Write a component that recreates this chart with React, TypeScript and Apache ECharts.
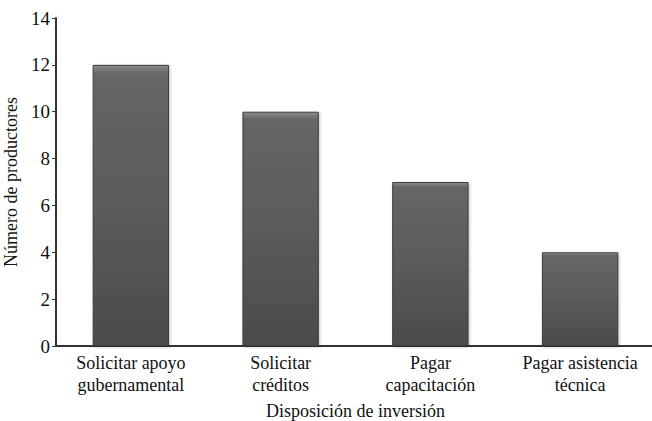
import React, { useEffect, useRef } from "react";
import * as echarts from "echarts";

const categories = [
  "Solicitar apoyo\ngubernamental",
  "Solicitar\ncréditos",
  "Pagar\ncapacitación",
  "Pagar asistencia\ntécnica",
];
const values = [12, 10, 7, 4];
const yTicks = { min: 0, max: 14, interval: 2 };

const FONT = "Liberation Serif, Times New Roman, serif";

export default function App() {
  const ref = useRef<HTMLDivElement>(null);
  useEffect(() => {
    document.body.style.margin = "0";
    if (!ref.current) return;
    const chart = echarts.init(ref.current, undefined, { renderer: "svg" });
    chart.setOption({
      animation: false,
      backgroundColor: "#ffffff",
      textStyle: { fontFamily: FONT },
      grid: {
        left: 56,
        right: -3,
        top: 18,
        bottom: 75,
        containLabel: false,
        outerBoundsMode: "none",
      },
      xAxis: {
        type: "category",
        data: categories,
        name: "Disposición de inversión",
        nameLocation: "middle",
        nameGap: 56,
        nameTextStyle: { fontFamily: FONT, fontSize: 18, color: "#111" },
        axisLine: { lineStyle: { color: "#333", width: 2 } },
        axisTick: { show: false },
        axisLabel: {
          fontFamily: FONT,
          fontSize: 18,
          color: "#111",
          lineHeight: 22,
          margin: 6,
          interval: 0,
          hideOverlap: false,
        },
      },
      yAxis: {
        type: "value",
        min: yTicks.min,
        max: yTicks.max,
        interval: yTicks.interval,
        name: "Número de productores",
        nameLocation: "middle",
        nameGap: 33,
        nameRotate: 90,
        nameTextStyle: { fontFamily: FONT, fontSize: 18, color: "#111" },
        axisLine: { show: true, lineStyle: { color: "#333", width: 2 } },
        axisTick: { show: true, length: 4, lineStyle: { color: "#333", width: 1 } },
        axisLabel: { fontFamily: FONT, fontSize: 19, color: "#111", margin: 6 },
        splitLine: { show: false },
      },
      series: [
        {
          type: "bar",
          data: values,
          barWidth: "51%",
          itemStyle: {
            color: {
              type: "linear",
              x: 0,
              y: 0,
              x2: 0,
              y2: 1,
              colorStops: [
                { offset: 0, color: "#8c8c8c" },
                { offset: 0.03, color: "#666666" },
                { offset: 0.5, color: "#5b5b5b" },
                { offset: 1, color: "#4b4b4b" },
              ],
            },
            borderColor: "#3c3c3c",
            borderWidth: 1,
            shadowColor: "rgba(0,0,0,0.25)",
            shadowBlur: 3,
            shadowOffsetX: 1,
            shadowOffsetY: 1,
          },
        },
      ],
    });
    return () => chart.dispose();
  }, []);
  return <div ref={ref} style={{ width: 652, height: 421 }} />;
}
